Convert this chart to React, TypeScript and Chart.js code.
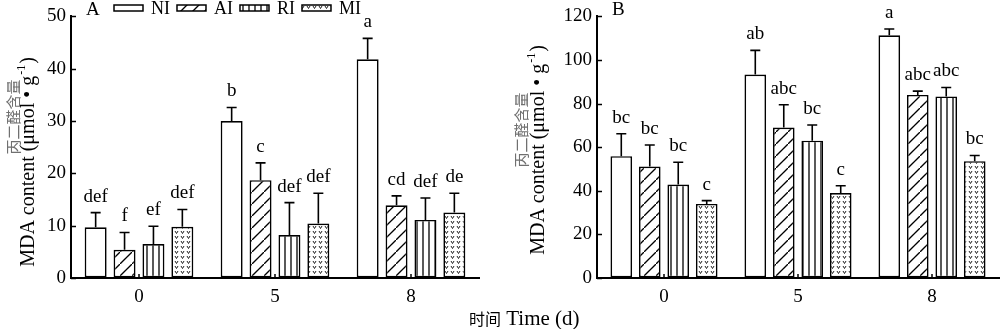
import React, { useEffect, useRef } from "react";
import { Chart, registerables } from "chart.js";

Chart.register(...registerables);

const categories = ["0", "5", "8"];
const seriesNames = ["NI", "AI", "RI", "MI"];

// Panel A values (means) and SD
const aNI = [9.7, 30.0, 41.8];
const aAI = [5.4, 18.7, 13.9];
const aRI = [6.5, 8.2, 11.1];
const aMI = [9.8, 10.4, 12.5];
const aNIsd = [2.8, 2.6, 4.0];
const aAIsd = [3.3, 3.3, 1.8];
const aRIsd = [3.4, 6.2, 4.2];
const aMIsd = [3.3, 5.8, 3.7];
const aNIlet = ["def", "b", "a"];
const aAIlet = ["f", "c", "cd"];
const aRIlet = ["ef", "def", "def"];
const aMIlet = ["def", "def", "de"];
const aMax = 50;
const aStep = 10;

// Panel B values (means) and SD
const bNI = [55.9, 93.3, 111.3];
const bAI = [51.1, 69.0, 84.0];
const bRI = [42.9, 63.0, 83.3];
const bMI = [34.0, 39.0, 53.6];
const bNIsd = [10.3, 11.1, 2.9];
const bAIsd = [9.9, 10.5, 1.7];
const bRIsd = [10.2, 7.2, 4.1];
const bMIsd = [1.5, 3.3, 2.6];
const bNIlet = ["bc", "ab", "a"];
const bAIlet = ["bc", "abc", "abc"];
const bRIlet = ["bc", "bc", "abc"];
const bMIlet = ["c", "c", "bc"];
const bMax = 120;
const bStep = 20;

const yTitleCn = "丙二醛含量";
const yTitleEnMain = "MDA content (μmol • g";
const yTitleEnSup = "-1";
const yTitleEnEnd = ")";
const xTitleCn = "时间";
const xTitleEn = " Time (d)";

const SERIF = "'Liberation Serif', 'Times New Roman', serif";
const CJK = "'Noto Sans CJK SC', sans-serif";

function makeFills(): (string | CanvasPattern)[] {
  const mk = (w: number, h: number, draw: (c: CanvasRenderingContext2D) => void) => {
    const cv = document.createElement("canvas");
    cv.width = w;
    cv.height = h;
    const c = cv.getContext("2d")!;
    c.fillStyle = "#fff";
    c.fillRect(0, 0, w, h);
    draw(c);
    return c.createPattern(cv, "repeat")!;
  };
  const diag = mk(12, 12, (c) => {
    c.strokeStyle = "#000";
    c.lineWidth = 1.3;
    c.beginPath();
    c.moveTo(-1, 13);
    c.lineTo(13, -1);
    c.stroke();
  });
  const vert = mk(6, 6, (c) => {
    c.strokeStyle = "#000";
    c.lineWidth = 1.3;
    c.beginPath();
    c.moveTo(3, 0);
    c.lineTo(3, 6);
    c.stroke();
  });
  const dots = mk(6, 5, (c) => {
    c.strokeStyle = "#222";
    c.lineWidth = 1;
    c.beginPath();
    c.moveTo(1, 1);
    c.lineTo(2.5, 3.5);
    c.lineTo(4, 1);
    c.stroke();
  });
  return ["#fff", diag, vert, dots];
}

type PanelCfg = {
  values: number[][];
  sds: number[][];
  letters: string[][];
  max: number;
  step: number;
  yAxisWidth: number;
  top: number;
  right: number;
  panel: string;
  legend: boolean;
  cnX: number;
  cnY: number;
  enX: number;
  enY: number;
};

const decorPlugin = {
  id: "decor",
  afterDatasetsDraw(chart: any, _args: any, opts: any) {
    const cfg: PanelCfg = opts.cfg;
    const ctx: CanvasRenderingContext2D = chart.ctx;
    const ys = chart.scales.y;
    ctx.save();
    ctx.strokeStyle = "#000";
    ctx.fillStyle = "#000";
    ctx.lineWidth = 1.6;
    ctx.font = `19px ${SERIF}`;
    ctx.textAlign = "center";
    ctx.textBaseline = "alphabetic";
    cfg.values.forEach((vals, i) => {
      const meta = chart.getDatasetMeta(i);
      vals.forEach((v, j) => {
        const el = meta.data[j];
        const x = el.x;
        const yTop = el.y;
        const yErr = ys.getPixelForValue(v + cfg.sds[i][j]);
        ctx.beginPath();
        ctx.moveTo(x, yTop);
        ctx.lineTo(x, yErr);
        ctx.moveTo(x - 5, yErr);
        ctx.lineTo(x + 5, yErr);
        ctx.stroke();
        ctx.fillText(cfg.letters[i][j], x, yErr - 11);
      });
    });
    ctx.restore();
  },
  afterDraw(chart: any, _args: any, opts: any) {
    const cfg: PanelCfg = opts.cfg;
    const ctx: CanvasRenderingContext2D = chart.ctx;
    const area = chart.chartArea;
    const ys = chart.scales.y;
    const xs = chart.scales.x;
    ctx.save();
    ctx.strokeStyle = "#000";
    ctx.lineWidth = 1.5;
    // inward y ticks
    for (let v = 0; v <= cfg.max; v += cfg.step) {
      const y = Math.round(ys.getPixelForValue(v)) + 0.5;
      ctx.beginPath();
      ctx.moveTo(area.left, y);
      ctx.lineTo(area.left + 5, y);
      ctx.stroke();
    }
    // inward x ticks
    categories.forEach((_c, i) => {
      const x = xs.getPixelForValue(i);
      ctx.beginPath();
      ctx.moveTo(x, area.bottom);
      ctx.lineTo(x, area.bottom - 4);
      ctx.stroke();
    });
    // panel label
    ctx.fillStyle = "#000";
    ctx.font = `19px ${SERIF}`;
    ctx.textAlign = "left";
    ctx.textBaseline = "middle";
    ctx.fillText(cfg.panel, area.left + 15, 10);
    // legend
    if (cfg.legend) {
      const fills = opts.fills;
      ctx.font = `18px ${SERIF}`;
      let x = area.left + 43;
      const yc = 8;
      seriesNames.forEach((n, i) => {
        ctx.fillStyle = fills[i];
        ctx.fillRect(x, yc - 3, 29, 6);
        ctx.lineWidth = 1.5;
        ctx.strokeStyle = "#000";
        ctx.strokeRect(x, yc - 3, 29, 6);
        ctx.fillStyle = "#000";
        ctx.fillText(n, x + 37, yc + 1);
        x += 37 + ctx.measureText(n).width + 7;
      });
    }
    // y title (two lines)
    ctx.save();
    ctx.translate(cfg.cnX, cfg.cnY);
    ctx.rotate(-Math.PI / 2);
    ctx.font = `15px ${CJK}`;
    ctx.fillStyle = "#707070";
    ctx.textAlign = "center";
    ctx.textBaseline = "middle";
    ctx.fillText(yTitleCn, 0, 0);
    ctx.restore();

    ctx.save();
    ctx.translate(cfg.enX, cfg.enY);
    ctx.rotate(-Math.PI / 2);
    ctx.fillStyle = "#000";
    ctx.textBaseline = "middle";
    ctx.textAlign = "left";
    const mainFont = `20px ${SERIF}`;
    const supFont = `12px ${SERIF}`;
    ctx.font = mainFont;
    const w1 = ctx.measureText(yTitleEnMain).width;
    const w3 = ctx.measureText(yTitleEnEnd).width;
    ctx.font = supFont;
    const w2 = ctx.measureText(yTitleEnSup).width;
    const total = w1 + w2 + w3 + 2;
    let sx = -total / 2;
    ctx.font = mainFont;
    ctx.fillText(yTitleEnMain, sx, 0);
    sx += w1 + 1;
    ctx.font = supFont;
    ctx.fillText(yTitleEnSup, sx, -7);
    sx += w2 + 1;
    ctx.font = mainFont;
    ctx.fillText(yTitleEnEnd, sx, 0);
    ctx.restore();
    ctx.restore();
  },
};

function Panel({ cfg }: { cfg: PanelCfg }) {
  const ref = useRef<HTMLCanvasElement>(null);
  useEffect(() => {
    const fills = makeFills();
    const chart = new Chart(ref.current!, {
      type: "bar",
      data: {
        labels: categories,
        datasets: seriesNames.map((n, i) => ({
          label: n,
          data: cfg.values[i],
          backgroundColor: fills[i] as any,
          borderColor: "#000",
          borderWidth: 1.7,
          borderSkipped: false,
          categoryPercentage: 0.85,
          barPercentage: 0.76,
        })),
      },
      options: {
        responsive: false,
        animation: false,
        events: [],
        layout: { padding: { left: 0, top: cfg.top, right: cfg.right, bottom: 0 } },
        plugins: {
          legend: { display: false },
          tooltip: { enabled: false },
          decor: { cfg, fills },
        } as any,
        scales: {
          x: {
            grid: { display: true, drawOnChartArea: false, drawTicks: false },
            border: { display: true, color: "#000", width: 2 },
            ticks: { color: "#000", font: { family: SERIF, size: 19 }, padding: 8 },
            afterFit: (s: any) => {
              s.height = 51;
            },
          },
          y: {
            min: 0,
            max: cfg.max,
            grid: { display: true, drawOnChartArea: false, drawTicks: false },
            border: { display: true, color: "#000", width: 2 },
            ticks: { stepSize: cfg.step, color: "#000", font: { family: SERIF, size: 19 }, padding: 5 },
            afterFit: (s: any) => {
              s.width = cfg.yAxisWidth;
            },
          },
        },
      },
      plugins: [decorPlugin as any],
    });
    return () => chart.destroy();
  }, [cfg]);
  return <canvas ref={ref} width={500} height={329} style={{ display: "block" }} />;
}

const cfgA: PanelCfg = {
  values: [aNI, aAI, aRI, aMI],
  sds: [aNIsd, aAIsd, aRIsd, aMIsd],
  letters: [aNIlet, aAIlet, aRIlet, aMIlet],
  max: aMax,
  step: aStep,
  yAxisWidth: 71,
  top: 11,
  right: 21,
  panel: "A",
  legend: true,
  cnX: 13,
  cnY: 117,
  enX: 29,
  enY: 162,
};

const cfgB: PanelCfg = {
  values: [bNI, bAI, bRI, bMI],
  sds: [bNIsd, bAIsd, bRIsd, bMIsd],
  letters: [bNIlet, bAIlet, bRIlet, bMIlet],
  max: bMax,
  step: bStep,
  yAxisWidth: 97,
  top: 14,
  right: 1,
  panel: "B",
  legend: false,
  cnX: 21,
  cnY: 130,
  enX: 39,
  enY: 150,
};

export default function App() {
  return (
    <div style={{ position: "absolute", left: 0, top: 0, width: 1000, height: 329, background: "#fff", overflow: "hidden" }}>
      <div style={{ position: "absolute", left: 0, top: 0 }}>
        <Panel cfg={cfgA} />
      </div>
      <div style={{ position: "absolute", left: 500, top: 0 }}>
        <Panel cfg={cfgB} />
      </div>
      <div
        style={{
          position: "absolute",
          left: 469,
          top: 306,
          whiteSpace: "nowrap",
          lineHeight: "24px",
          color: "#000",
        }}
      >
        <span style={{ fontFamily: CJK, fontSize: 16 }}>{xTitleCn}</span>
        <span style={{ fontFamily: SERIF, fontSize: 21 }}>{xTitleEn}</span>
      </div>
    </div>
  );
}
